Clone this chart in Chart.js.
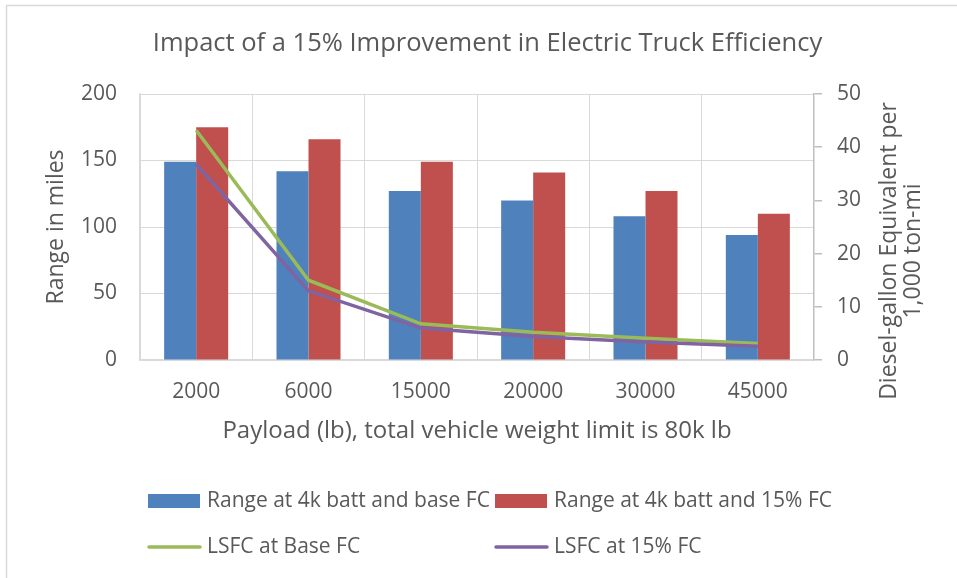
<!DOCTYPE html>
<html>
<head>
<meta charset="utf-8">
<script src="https://cdn.jsdelivr.net/npm/chart.js@4.4.1/dist/chart.umd.min.js"></script>
<style>
  html, body { margin: 0; padding: 0; background: #ffffff; }
  #wrap { position: relative; width: 957px; height: 578px; }
</style>
</head>
<body>
<div id="wrap"><canvas id="c" width="957" height="578"></canvas></div>
<script>
const categories = ['2000', '6000', '15000', '20000', '30000', '45000'];
const rangeBase = [149, 142, 127, 120, 108, 94];
const range15 = [175, 166, 149, 141, 127, 110];
const lsfcBase = [43.2, 15.0, 6.8, 5.2, 4.1, 3.1];
const lsfc15 = [36.8, 13.0, 6.0, 4.4, 3.4, 2.6];
const leftTicks = [0, 50, 100, 150, 200];
const rightTicks = [0, 10, 20, 30, 40, 50];

const TXT = '#595959';
const FONT = "'Open Sans', sans-serif";
const GRID = '#d9d9d9';

const extras = {
  id: 'extras',
  beforeDraw(chart) {
    const ctx = chart.ctx;
    ctx.save();
    ctx.strokeStyle = GRID;
    ctx.lineWidth = 1.5;
    ctx.strokeRect(6.5, 5.5, 1200, 1200);
    ctx.restore();
  },
  afterDraw(chart) {
    const ctx = chart.ctx;
    const ca = chart.chartArea;
    ctx.save();
    // right axis title, reading bottom-to-top
    ctx.fillStyle = TXT;
    ctx.font = "23px " + FONT;
    ctx.textAlign = 'center';
    ctx.textBaseline = 'middle';
    const rt = ['Diesel-gallon Equivalent per', '1,000 ton-mi'];
    const cy = ca.top + (ca.bottom - ca.top) / 2 + 24;
    const xs = [ca.right + 75, ca.right + 99];
    rt.forEach((t, i) => {
      ctx.save();
      ctx.translate(xs[i], cy);
      ctx.rotate(-Math.PI / 2);
      ctx.fillText(t, 0, 0);
      ctx.restore();
    });
    // legend
    const ds = chart.data.datasets;
    const cols = [148, 495];
    const rows = [501, 547];
    ctx.font = "21px " + FONT;
    ctx.textAlign = 'left';
    ds.forEach((d, i) => {
      const x = cols[i % 2];
      const y = rows[Math.floor(i / 2)];
      if (d.type === 'line') {
        ctx.strokeStyle = d.borderColor;
        ctx.lineWidth = 3.5;
        ctx.lineCap = 'round';
        ctx.beginPath();
        ctx.moveTo(x + 1, y);
        ctx.lineTo(x + 52, y);
        ctx.stroke();
      } else {
        ctx.fillStyle = d.backgroundColor;
        ctx.fillRect(x, y - 7, 52, 14);
      }
      ctx.fillStyle = TXT;
      ctx.fillText(d.label, x + 59, y);
    });
    ctx.restore();
  }
};

new Chart(document.getElementById('c'), {
  data: {
    labels: categories,
    datasets: [
      { type: 'bar', label: 'Range at 4k batt and base FC', data: rangeBase, backgroundColor: '#4F81BD', yAxisID: 'y', order: 2 },
      { type: 'bar', label: 'Range at 4k batt and 15% FC', data: range15, backgroundColor: '#C0504D', yAxisID: 'y', order: 2 },
      { type: 'line', label: 'LSFC at Base FC', data: lsfcBase, borderColor: '#9BBB59', backgroundColor: '#9BBB59', borderWidth: 3.5, pointRadius: 0, tension: 0, yAxisID: 'y2', order: 1 },
      { type: 'line', label: 'LSFC at 15% FC', data: lsfc15, borderColor: '#8064A2', backgroundColor: '#8064A2', borderWidth: 3.5, pointRadius: 0, tension: 0, yAxisID: 'y2', order: 0 }
    ]
  },
  options: {
    responsive: false,
    animation: false,
    datasets: { bar: { categoryPercentage: 0.57, barPercentage: 1.0 } },
    layout: { padding: { left: 18, right: 0, top: 0, bottom: 0 } },
    plugins: {
      legend: { display: false },
      tooltip: { enabled: false },
      title: {
        display: true,
        text: 'Impact of a 15% Improvement in Electric Truck Efficiency',
        color: TXT,
        font: { family: FONT, size: 25.5, weight: 'normal', lineHeight: 1.2 },
        padding: { top: 28.7, bottom: 34.7 }
      }
    },
    scales: {
      x: {
        offset: true,
        grid: { color: GRID, lineWidth: 1, offset: true, drawTicks: false },
        border: { color: GRID, width: 1.5 },
        ticks: { color: TXT, font: { family: FONT, size: 21, lineHeight: 1.2 }, padding: 19.4 },
        title: {
          display: true,
          text: 'Payload (lb), total vehicle weight limit is 80k lb',
          color: TXT,
          font: { family: FONT, size: 24, lineHeight: 1.2 },
          padding: { top: 0, bottom: 132.9 }
        },
        afterFit(s) { s.height = 218; }
      },
      y: {
        position: 'left',
        min: 0, max: 200,
        afterBuildTicks(s) { s.ticks = leftTicks.map(v => ({ value: v })); },
        grid: { color: GRID, lineWidth: 1, drawTicks: false },
        border: { color: GRID, width: 1.5 },
        ticks: { color: TXT, font: { family: FONT, size: 21 }, padding: 23 },
        title: {
          display: true,
          text: 'Range in miles',
          color: TXT,
          font: { family: FONT, size: 23, lineHeight: 1.2 },
          padding: { top: 25, bottom: 0 }
        },
        afterFit(s) { s.width = 122; }
      },
      y2: {
        position: 'right',
        min: 0, max: 50,
        afterBuildTicks(s) { s.ticks = rightTicks.map(v => ({ value: v })); },
        grid: { drawOnChartArea: false, color: '#bfbfbf', tickColor: '#bfbfbf', tickLength: 8, lineWidth: 1.5 },
        border: { color: '#bfbfbf', width: 1.5 },
        ticks: { color: TXT, font: { family: FONT, size: 21 }, padding: 15 },
        afterFit(s) { s.width = 143; }
      }
    }
  },
  plugins: [extras]
});
</script>
</body>
</html>
